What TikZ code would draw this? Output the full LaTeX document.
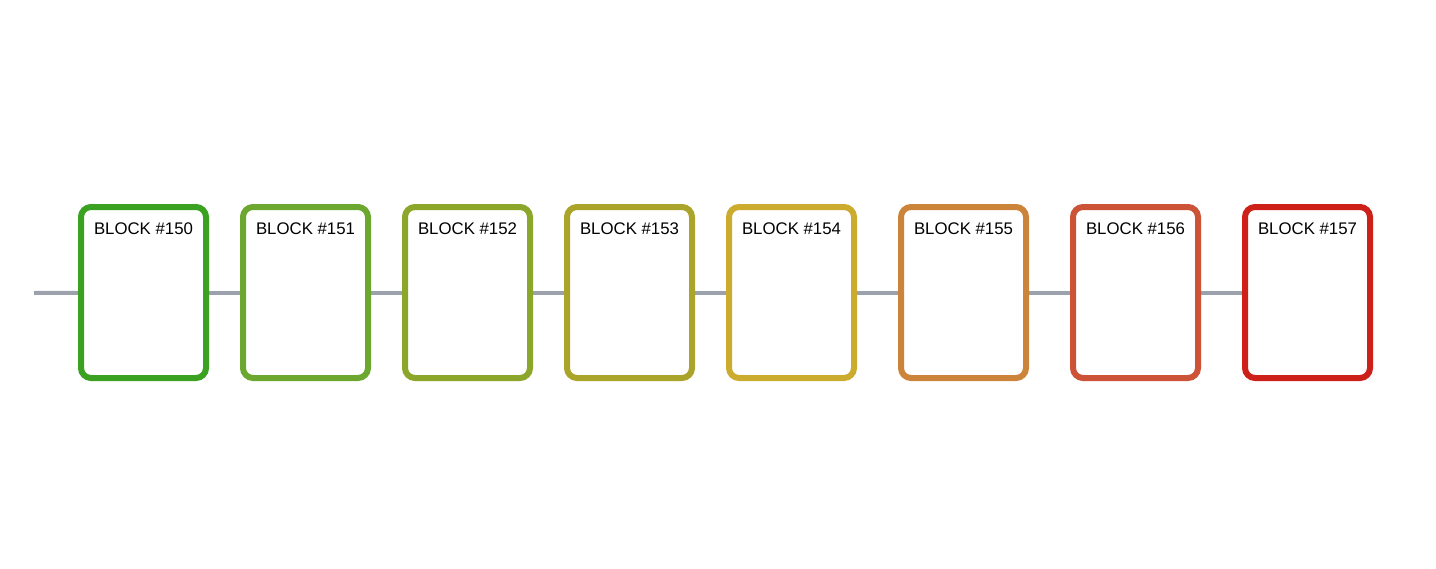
\documentclass[tikz,border=0pt]{standalone}
\usepackage{fontspec}
\setmainfont{Liberation Sans}
\usetikzlibrary{backgrounds}
\definecolor{c150}{RGB}{58,162,32}
\definecolor{c151}{RGB}{108,168,48}
\definecolor{c152}{RGB}{140,166,42}
\definecolor{c153}{RGB}{170,164,42}
\definecolor{c154}{RGB}{204,172,46}
\definecolor{c155}{RGB}{204,132,58}
\definecolor{c156}{RGB}{204,82,56}
\definecolor{c157}{RGB}{204,32,24}
\definecolor{linkgray}{RGB}{156,162,172}
\tikzset{
  blockbox/.style={draw=#1, fill=white, rectangle, rounded corners=10pt, line width=6pt,
    minimum width=125pt, minimum height=171pt, inner sep=0pt, outer sep=0pt},
  blocklabel/.style={font=\fontsize{16.8pt}{20pt}\selectfont, inner sep=0pt, text=black},
  chainlink/.style={draw=linkgray, line width=4pt}
}
\begin{document}
\begin{tikzpicture}[x=1pt,y=-1pt]
\useasboundingbox (0,0) rectangle (1436,568);
\coordinate (start) at (34,293);
\foreach \n/\x in {150/143.5,151/305.5,152/467.5,153/629.5,154/791.5,155/963.5,156/1135.5,157/1307.5}{
  \node[blockbox=c\n] (b\n) at (\x,292.5) {};
  \node[blocklabel] (t\n) at (\x,228.5) {BLOCK \#\n};
}
\begin{scope}[on background layer]
\draw[chainlink] (start) -- (b150.center);
\draw[chainlink] (b150.center) -- (b151.center);
\draw[chainlink] (b151.center) -- (b152.center);
\draw[chainlink] (b152.center) -- (b153.center);
\draw[chainlink] (b153.center) -- (b154.center);
\draw[chainlink] (b154.center) -- (b155.center);
\draw[chainlink] (b155.center) -- (b156.center);
\draw[chainlink] (b156.center) -- (b157.center);
\end{scope}
\end{tikzpicture}
\end{document}
